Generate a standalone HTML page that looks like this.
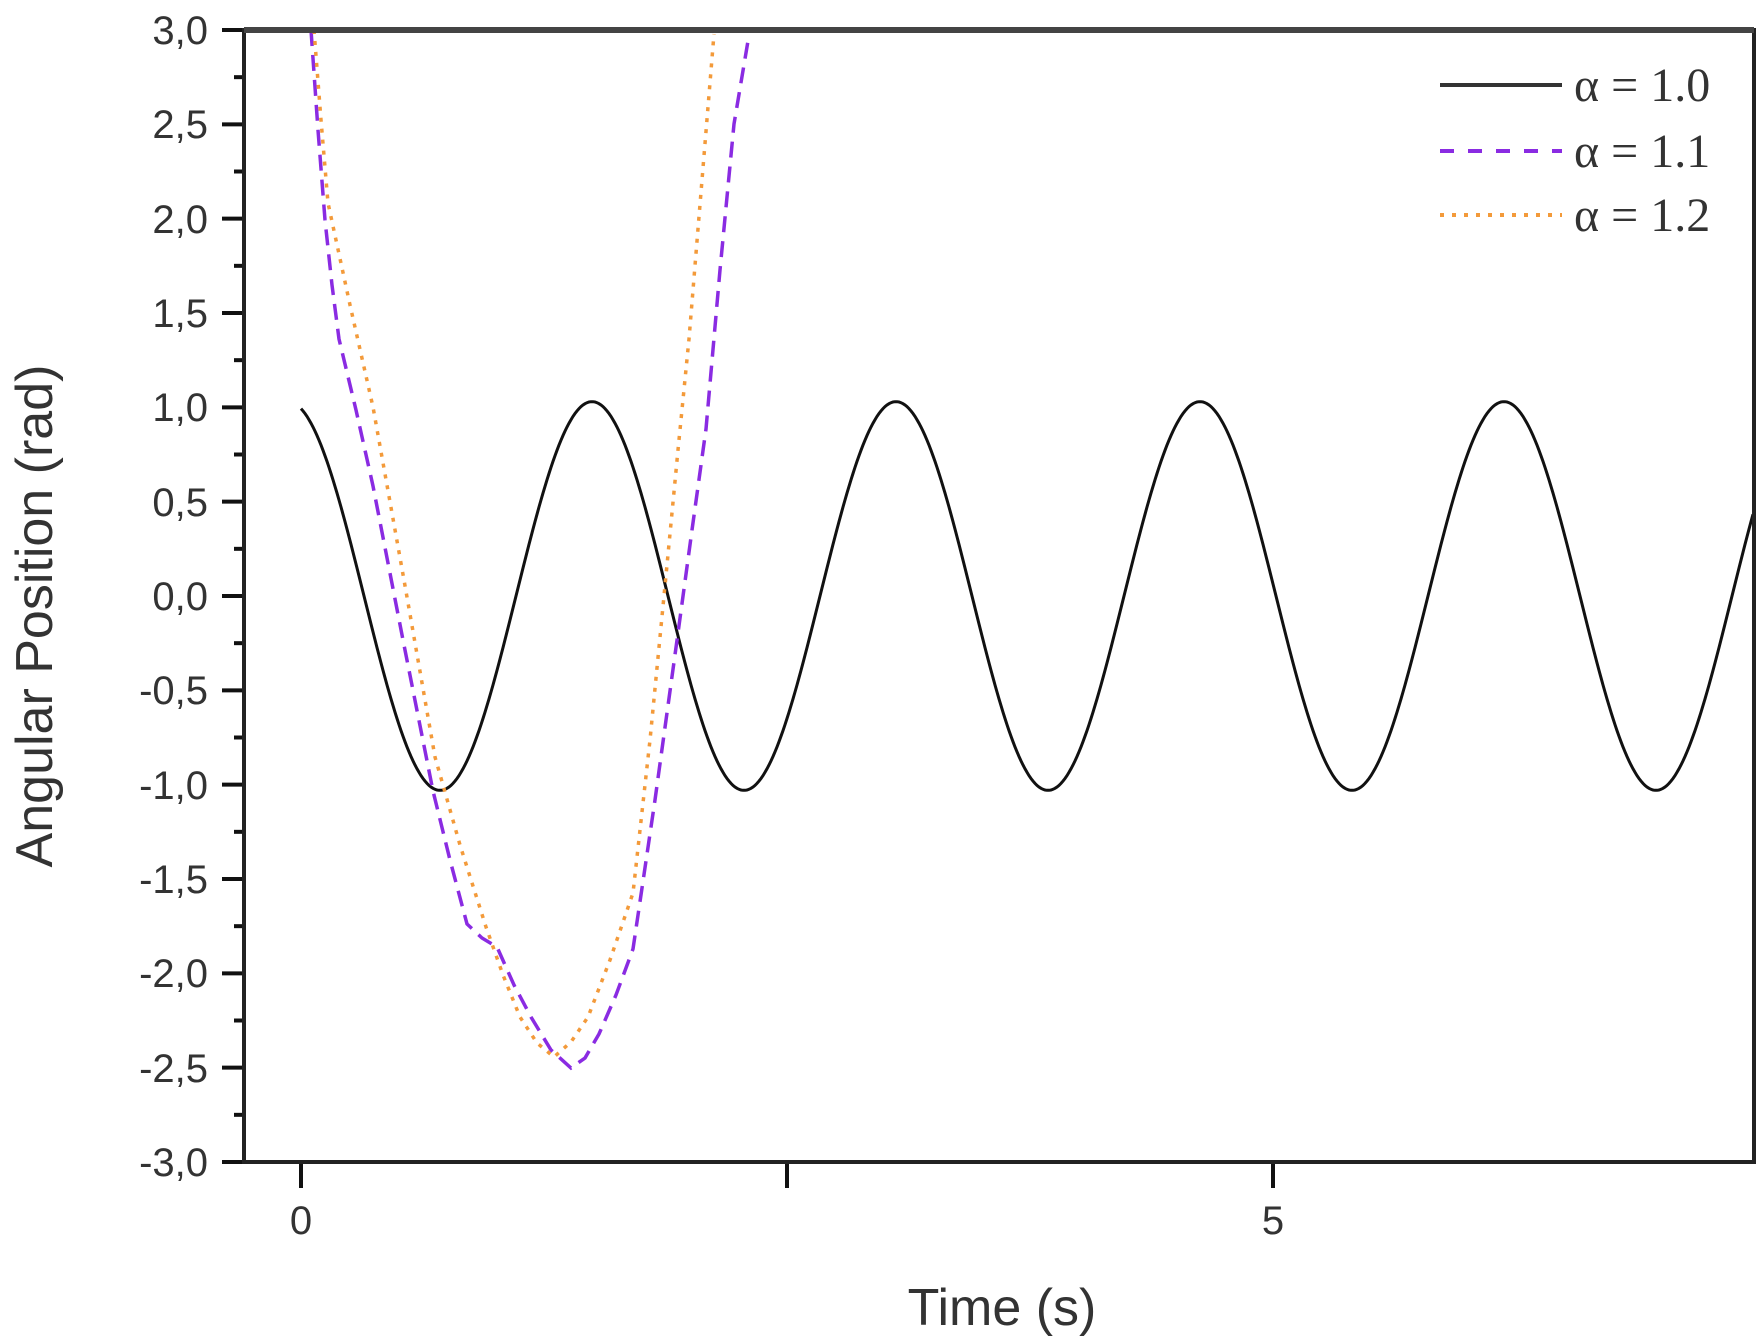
<!DOCTYPE html>
<html><head><meta charset="utf-8"><style>html,body{margin:0;padding:0;background:#fff}svg{display:block}</style></head>
<body>
<svg width="1764" height="1340" viewBox="0 0 1764 1340" xmlns="http://www.w3.org/2000/svg">
<rect width="1764" height="1340" fill="#fff"/>
<g font-family="Liberation Sans, Arial, sans-serif" font-size="40" fill="#333" text-anchor="end">
<text x="208" y="44">3,0</text>
<text x="208" y="138">2,5</text>
<text x="208" y="233">2,0</text>
<text x="208" y="327">1,5</text>
<text x="208" y="421">1,0</text>
<text x="208" y="516">0,5</text>
<text x="208" y="610">0,0</text>
<text x="208" y="704">-0,5</text>
<text x="208" y="799">-1,0</text>
<text x="208" y="893">-1,5</text>
<text x="208" y="987">-2,0</text>
<text x="208" y="1082">-2,5</text>
<text x="208" y="1176">-3,0</text>
</g>
<g font-family="Liberation Sans, Arial, sans-serif" font-size="40" fill="#333" text-anchor="middle">
<text x="301" y="1234">0</text>
<text x="1273" y="1234">5</text>
</g>
<text x="1002" y="1325" font-family="Liberation Sans, Arial, sans-serif" font-size="52" fill="#333" text-anchor="middle">Time (s)</text>
<text transform="translate(52,616) rotate(-90)" font-family="Liberation Sans, Arial, sans-serif" font-size="52" fill="#333" text-anchor="middle">Angular Position (rad)</text>
<g stroke="#111" stroke-width="4" id="ticks"></g>
<path id="curve1" fill="none" stroke="#111" stroke-width="3"/>
<polyline fill="none" stroke="#8a2be2" stroke-width="3.5" stroke-dasharray="16,9" points="311,30 318,130 325,220 332,285 339,339 356,410 373,486 403,640 433,791 450,860 467,924 482,938 497,947 514,985 531,1017 551,1050 571,1068 585,1058 599,1034 616,995 633,949 655,800 678,633 692,530 706,429 720,270 734,124 748,41"/>
<polyline fill="none" stroke="#f39a3a" stroke-width="3.5" stroke-dasharray="4,7" points="314,30 321,120 328,203 350,305 373,407 404,580 435,757 460,845 486,927 503,975 520,1017 537,1043 554,1057 571,1042 588,1017 610,960 633,893 650,740 667,565 678,450 689,339 702,180 714,34"/>
<rect x="244" y="30" width="1510" height="1132" fill="none" stroke="#222" stroke-width="4"/>
<line x1="244" y1="30" x2="1754" y2="30" stroke="#444" stroke-width="6"/>
<g font-family="Liberation Serif, serif" font-size="48" fill="#333">
<line x1="1440" y1="85" x2="1562" y2="85" stroke="#333" stroke-width="4"/>
<text x="1574" y="101">α = 1.0</text>
<line x1="1440" y1="151" x2="1562" y2="151" stroke="#8a2be2" stroke-width="4" stroke-dasharray="14,14"/>
<text x="1574" y="167">α = 1.1</text>
<line x1="1440" y1="215" x2="1562" y2="215" stroke="#f39a3a" stroke-width="4" stroke-dasharray="4,8"/>
<text x="1574" y="231">α = 1.2</text>
</g>
<script>
var NS='http://www.w3.org/2000/svg',g=document.getElementById('ticks');
function ln(a,b,c,d){var l=document.createElementNS(NS,'line');l.setAttribute('x1',a);l.setAttribute('y1',b);l.setAttribute('x2',c);l.setAttribute('y2',d);g.appendChild(l);}
for(var i=0;i<=24;i++){var y=30+i*1132/24;var L=(i%2==0)?22:10;ln(244-L,y,244,y);}
[301,787,1273].forEach(function(x){ln(x,1162,x,1188);});
var d='';for(var x=301;x<=1754;x+=2){var v=1.03*Math.cos(2*Math.PI*(x-301+13)/304);var y=596-v*188.7;d+=(x==301?'M':'L')+x+','+y.toFixed(1);}
document.getElementById('curve1').setAttribute('d',d);
</script>
</svg>
</body></html>
